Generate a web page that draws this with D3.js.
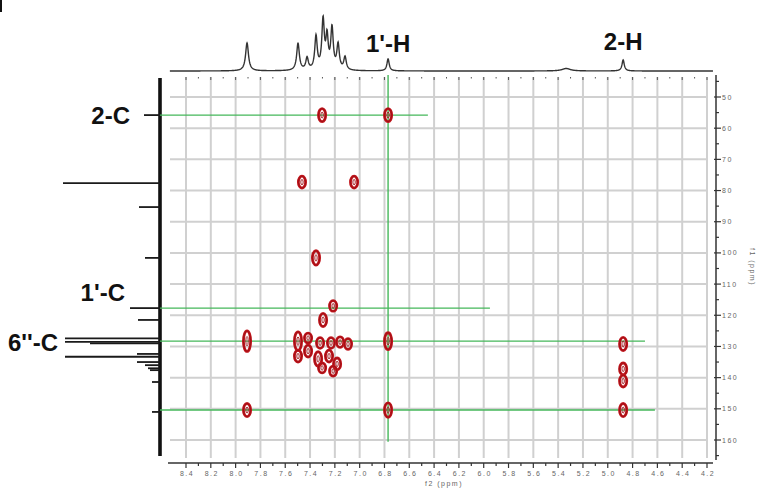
<!DOCTYPE html>
<html>
<head>
<meta charset="utf-8">
<script src="https://cdn.jsdelivr.net/npm/d3@7"></script>
<style>
  html, body { margin: 0; padding: 0; background: #fff; }
  svg { display: block; }
  .lab { font-family: "Liberation Sans", Arial, sans-serif; font-weight: bold; font-size: 24px; fill: #111; }
  .tick { font-family: "Liberation Sans", Arial, sans-serif; font-size: 7px; fill: #666; letter-spacing: 1.5px; }
</style>
</head>
<body>
<script>
// ---- HMBC data ----
// f2 (1H) axis tick labels, ppm
const f2Ticks = [8.4, 8.2, 8.0, 7.8, 7.6, 7.4, 7.2, 7.0, 6.8, 6.6, 6.4, 6.2, 6.0, 5.8, 5.6, 5.4, 5.2, 5.0, 4.8, 4.6, 4.4, 4.2];
// f1 (13C) axis tick labels, ppm
const f1Ticks = [50, 60, 70, 80, 90, 100, 110, 120, 130, 140, 150, 160];

// 1H projection: shift (ppm), intensity, half-width (ppm)
const hShift = [7.908, 7.497, 7.424, 7.352, 7.295, 7.263, 7.223, 7.174, 7.118, 6.771, 5.335, 4.876];
const hInt   = [28, 27, 12, 33, 49, 31, 41, 25, 13, 12, 2.5, 11];
const hWidth = [0.014, 0.013, 0.012, 0.012, 0.012, 0.011, 0.012, 0.012, 0.012, 0.011, 0.04, 0.011];

// 13C projection: shift (ppm), intensity
const cShift = [55.8, 77.6, 85.3, 101.6, 117.7, 121.5, 127.4, 128.5, 129.0, 132.4, 133.3, 135.0, 136.0, 137.0, 137.6, 141.4, 151.0];
const cInt   = [16, 97, 21, 15, 30, 22, 95, 95, 70, 23, 95, 23, 15, 12, 10, 8, 8];

// HMBC cross peaks: f2 (ppm), f1 (ppm), f1 half-width (ppm)
const peakF2 = [7.303, 6.771, 7.465, 7.045, 7.352, 7.214, 7.295, 7.908, 6.771, 4.876, 4.876, 4.876, 4.876, 7.908, 6.771,
                7.497, 7.497, 7.416, 7.416, 7.319, 7.231, 7.158, 7.094, 7.335, 7.247, 7.182, 7.214, 7.303];
const peakF1 = [55.8, 55.8, 77.3, 77.3, 101.6, 117.0, 121.5, 128.3, 128.3, 129.2, 137.2, 141.1, 150.4, 150.4, 150.4,
                128.3, 133.1, 127.3, 131.5, 128.9, 128.9, 128.6, 129.2, 134.0, 133.1, 135.6, 137.9, 136.9];
const peakW  = [2.1, 2.1, 1.9, 1.9, 2.3, 1.7, 2.1, 3.3, 2.7, 2.1, 1.9, 1.9, 2.1, 2.1, 2.3,
                3.0, 1.9, 1.6, 1.9, 1.7, 1.7, 1.7, 1.7, 2.3, 1.9, 1.9, 1.6, 1.6];

// Correlation guide lines
const hLineF1  = [55.8, 117.7, 128.3, 150.4];
const hLineEnd = [6.45, 5.95, 4.70, 4.62];
const vLineF2  = [6.771];
const vLineEnd = [160.6];

// Assignment labels
const cLabels = ["2-C", "1'-C", "6''-C"];
const cLabelF1 = [55.8, 117.7, 128.3];
const hLabels = ["1'-H", "2-H"];
const hLabelF2 = [6.771, 4.876];

// ---- drawing ----
const W = 757, H = 490;
const svg = d3.select("body").append("svg").attr("width", W).attr("height", H);

const x = d3.scaleLinear().domain([8.4, 4.2]).range([186, 707]);
const y = d3.scaleLinear().domain([50, 160]).range([97, 440]);

const plotL = 170, plotR = 708, plotT = 77, plotB = 458;

// stray panel mark in the corner
svg.append("rect").attr("x", 0).attr("y", 0).attr("width", 2).attr("height", 12).attr("fill", "#111");

// grid
const grid = svg.append("g");
grid.selectAll("line.v").data(f2Ticks).join("line")
  .attr("x1", d => x(d)).attr("x2", d => x(d))
  .attr("y1", plotT).attr("y2", plotB)
  .attr("stroke", "#d0d0d0").attr("stroke-width", 2);
grid.selectAll("line.h").data(f1Ticks).join("line")
  .attr("x1", plotL).attr("x2", plotR)
  .attr("y1", d => y(d)).attr("y2", d => y(d))
  .attr("stroke", "#d0d0d0").attr("stroke-width", 2);

// top frame ticks under the 1H trace
const topMinor = d3.range(84, 41, -1).map(v => v / 10);
svg.append("g").selectAll("line").data(topMinor).join("line")
  .attr("x1", d => x(d)).attr("x2", d => x(d))
  .attr("y1", 77).attr("y2", d => Math.round(d * 10) % 2 === 0 ? 80 : 78.5)
  .attr("stroke", "#555").attr("stroke-width", 1);

// bottom axis (f2)
const bAxis = svg.append("g");
bAxis.append("line").attr("x1", 168).attr("x2", 713).attr("y1", 463).attr("y2", 463)
  .attr("stroke", "#333").attr("stroke-width", 1.6);
bAxis.selectAll("line.t").data(topMinor).join("line")
  .attr("x1", d => x(d)).attr("x2", d => x(d))
  .attr("y1", 463).attr("y2", d => Math.round(d * 10) % 2 === 0 ? 468 : 466)
  .attr("stroke", "#333").attr("stroke-width", 1.2);
bAxis.selectAll("text").data(f2Ticks).join("text")
  .attr("class", "tick").attr("x", d => x(d) + 1).attr("y", 476)
  .attr("text-anchor", "middle").text(d => d.toFixed(1));
svg.append("text").attr("class", "tick").attr("x", 444).attr("y", 486)
  .attr("text-anchor", "middle").text("f2 (ppm)");

// right axis (f1)
const rAxis = svg.append("g");
rAxis.append("line").attr("x1", 716).attr("x2", 716).attr("y1", 75).attr("y2", 460)
  .attr("stroke", "#666").attr("stroke-width", 2);
const f1Minor = d3.range(45, 166, 5);
rAxis.selectAll("line.t").data(f1Minor).join("line")
  .attr("x1", d => d % 10 === 0 ? 714 : 716).attr("x2", d => d % 10 === 0 ? 721 : 719)
  .attr("y1", d => y(d)).attr("y2", d => y(d))
  .attr("stroke", "#333").attr("stroke-width", 1.2);
rAxis.selectAll("text").data(f1Ticks).join("text")
  .attr("class", "tick").attr("x", 722).attr("y", d => y(d) + 2.5)
  .text(d => d);
svg.append("text").attr("class", "tick")
  .attr("transform", "translate(750,267) rotate(90)")
  .attr("text-anchor", "middle").text("f1 (ppm)");

// 1H projection trace
const hY = d3.scaleLinear().domain([0, 60]).range([71, 11]);
const hPts = d3.range(8.53, 4.15, -0.002).map(p => {
  let s = 0;
  hShift.forEach((c, i) => { const u = (p - c) / hWidth[i]; s += hInt[i] / (1 + u * u); });
  return [p, s];
});
svg.append("path").datum(hPts)
  .attr("d", d3.line().x(d => x(d[0])).y(d => hY(d[1])))
  .attr("fill", "none").attr("stroke", "#333").attr("stroke-width", 1.4);

// 13C projection trace
const cX = d3.scaleLinear().domain([0, 100]).range([160, 60]);
svg.append("line").attr("x1", cX(0)).attr("x2", cX(0)).attr("y1", 78).attr("y2", 456)
  .attr("stroke", "#111").attr("stroke-width", 3.6);
svg.append("g").selectAll("line").data(cShift).join("line")
  .attr("x1", cX(0)).attr("x2", (d, i) => cX(cInt[i]))
  .attr("y1", d => y(d)).attr("y2", d => y(d))
  .attr("stroke", "#1a1a1a").attr("stroke-width", 1.8);

// guide lines
const green = "#45b75a";
svg.append("g").selectAll("line").data(hLineF1).join("line")
  .attr("x1", 160).attr("x2", (d, i) => x(hLineEnd[i]))
  .attr("y1", d => y(d)).attr("y2", d => y(d))
  .attr("stroke", green).attr("stroke-width", 1.4);
svg.append("g").selectAll("line").data(vLineF2).join("line")
  .attr("x1", d => x(d)).attr("x2", d => x(d))
  .attr("y1", 75).attr("y2", (d, i) => y(vLineEnd[i]))
  .attr("stroke", green).attr("stroke-width", 1.4);

// cross peaks as contour rings
const pk = svg.append("g");
peakF2.forEach((f2, i) => {
  const cx = x(f2), cy = y(peakF1[i]);
  const ry = y(peakF1[i] + peakW[i]) - cy;
  pk.append("ellipse").attr("cx", cx).attr("cy", cy).attr("rx", 3.6).attr("ry", ry)
    .attr("fill", "none").attr("stroke", "#c1161d").attr("stroke-width", 2.8);
  pk.append("ellipse").attr("cx", cx).attr("cy", cy).attr("rx", 3.6).attr("ry", ry)
    .attr("fill", "none").attr("stroke", "#8a0c10").attr("stroke-width", 0.6);
  pk.append("ellipse").attr("cx", cx).attr("cy", cy).attr("rx", 1.2).attr("ry", ry * 0.45)
    .attr("fill", "none").attr("stroke", "#9a1015").attr("stroke-width", 0.9);
});

// assignment labels
const cLabX = [130, 125, 58];
const cLabDy = [9, -7, 10];
svg.append("g").selectAll("text").data(cLabels).join("text")
  .attr("class", "lab").attr("text-anchor", "end")
  .attr("x", (d, i) => cLabX[i]).attr("y", (d, i) => y(cLabelF1[i]) + cLabDy[i])
  .text(d => d);
const hLabY = [52, 50];
svg.append("g").selectAll("text").data(hLabels).join("text")
  .attr("class", "lab").attr("text-anchor", "middle")
  .attr("x", (d, i) => x(hLabelF2[i])).attr("y", (d, i) => hLabY[i])
  .text(d => d);
</script>
</body>
</html>
